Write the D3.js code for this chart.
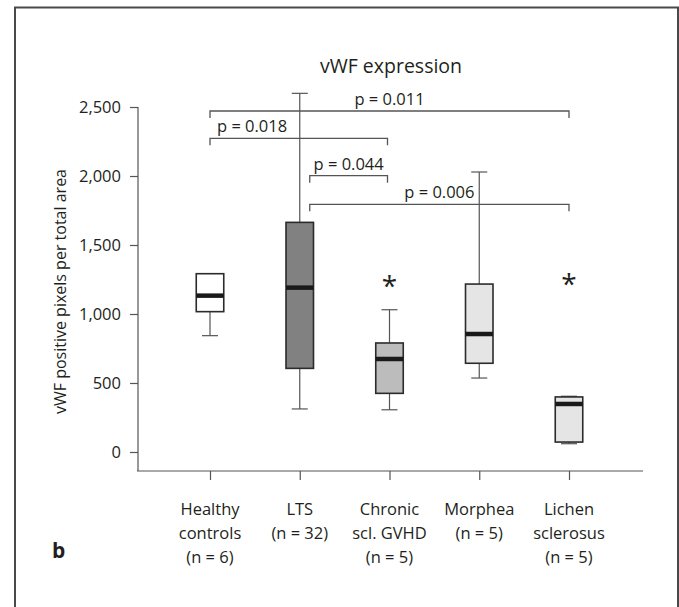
<!DOCTYPE html>
<meta charset="utf-8">
<script src="https://d3js.org/d3.v7.min.js"></script>
<style>
  body { margin: 0; background: #fff; }
  text { font-family: "Open Sans", sans-serif; fill: #231f20; }
</style>
<div id="chart"></div>
<script>
    // groups and box stats
    var categories = ["Healthy", "LTS", "Chronic", "Morphea", "Lichen"];
    var labelLines = [
        ["Healthy", "controls", "(n = 6)"],
        ["LTS", "(n = 32)"],
        ["Chronic", "scl. GVHD", "(n = 5)"],
        ["Morphea", "(n = 5)"],
        ["Lichen", "sclerosus", "(n = 5)"]
    ];
    var whiskerMin = [843, 312, 306, 536, 60];
    var q1 = [1017, 606, 425, 643, 72];
    var median = [1133, 1191, 674, 855, 348];
    var q3 = [1292, 1664, 790, 1217, 399];
    var whiskerMax = [1292, 2599, 1031, 2029, 404];
    var outliers = [null, null, 1246, null, 1258];
    var fills = ["#ffffff", "#818181", "#bcbcbc", "#e5e5e5", "#e5e5e5"];

    var yTicks = [0, 500, 1000, 1500, 2000, 2500];

    // significance brackets: from, to, level, label
    var brackets = [
        { from: "Healthy", to: "Lichen", level: 2471, label: "p = 0.011", anchor: "middle" },
        { from: "Healthy", to: "Chronic", level: 2273, label: "p = 0.018", anchor: "start" },
        { from: "LTS", to: "Chronic", level: 2002, label: "p = 0.044", anchor: "middle" },
        { from: "LTS", to: "Lichen", level: 1795, label: "p = 0.006", anchor: "middle" }
    ];

    var width = 679, height = 607;

    var svg = d3.select("#chart").append("svg")
        .attr("width", width)
        .attr("height", height);

    // frame
    svg.append("rect")
        .attr("x", 15).attr("y", 7.5)
        .attr("width", 663).attr("height", 640)
        .attr("fill", "none")
        .attr("stroke", "#4a4a4a")
        .attr("stroke-width", 2);

    var y = d3.scaleLinear().domain([0, 2500]).range([452, 107]);
    var x = d3.scalePoint().domain(categories).range([210, 569]);

    var axisBottomY = 471;
    var axisLeftX = 138;

    // y axis
    var yAxis = svg.append("g")
        .attr("transform", "translate(" + axisLeftX + ",0)")
        .call(d3.axisLeft(y).tickValues(yTicks).tickSize(8).tickPadding(9)
            .tickFormat(d3.format(",")));
    yAxis.select(".domain").remove();
    yAxis.selectAll(".tick line").attr("stroke", "#555").attr("stroke-width", 1.2);
    yAxis.selectAll(".tick text")
        .attr("font-size", "16.5px")
        .attr("font-family", "Open Sans")
        .attr("fill", "#231f20");

    svg.append("line")
        .attr("x1", axisLeftX).attr("x2", axisLeftX)
        .attr("y1", y(2500)).attr("y2", axisBottomY)
        .attr("stroke", "#555").attr("stroke-width", 1.2);

    // x axis
    svg.append("line")
        .attr("x1", axisLeftX - 1).attr("x2", 643)
        .attr("y1", axisBottomY).attr("y2", axisBottomY)
        .attr("stroke", "#555").attr("stroke-width", 1.2);

    var xAxis = svg.append("g")
        .attr("transform", "translate(0," + axisBottomY + ")")
        .call(d3.axisBottom(x).tickSize(9).tickFormat(""));
    xAxis.select(".domain").remove();
    xAxis.selectAll(".tick line").attr("stroke", "#555").attr("stroke-width", 1.2);

    var catLabels = svg.selectAll(null)
        .data(categories)
        .enter()
        .append("text")
        .attr("text-anchor", "middle")
        .attr("font-size", "16.5px");
    catLabels.each(function(d, i) {
        var t = d3.select(this);
        labelLines[i].forEach(function(line, j) {
            t.append("tspan")
                .attr("x", x(d))
                .attr("y", 515 + j * 24)
                .text(line);
        });
    });

    // boxes
    var boxW = 27.5, capW = 16;
    var boxes = svg.selectAll(".box")
        .data(categories)
        .enter()
        .append("g")
        .attr("class", "box");

    // whiskers
    boxes.append("line")
        .attr("x1", function(d) { return x(d); })
        .attr("x2", function(d) { return x(d); })
        .attr("y1", function(d, i) { return y(whiskerMin[i]); })
        .attr("y2", function(d, i) { return y(q1[i]); })
        .attr("stroke", "#555").attr("stroke-width", 1.2);
    boxes.append("line")
        .attr("x1", function(d) { return x(d); })
        .attr("x2", function(d) { return x(d); })
        .attr("y1", function(d, i) { return y(q3[i]); })
        .attr("y2", function(d, i) { return y(whiskerMax[i]); })
        .attr("stroke", "#555").attr("stroke-width", 1.2);
    boxes.append("line")
        .attr("x1", function(d) { return x(d) - capW / 2; })
        .attr("x2", function(d) { return x(d) + capW / 2; })
        .attr("y1", function(d, i) { return y(whiskerMin[i]); })
        .attr("y2", function(d, i) { return y(whiskerMin[i]); })
        .attr("stroke", "#555").attr("stroke-width", 1.2);
    boxes.filter(function(d, i) { return whiskerMax[i] > q3[i]; })
        .append("line")
        .attr("x1", function(d) { return x(d) - capW / 2; })
        .attr("x2", function(d) { return x(d) + capW / 2; })
        .attr("y1", function(d) { return y(whiskerMax[categories.indexOf(d)]); })
        .attr("y2", function(d) { return y(whiskerMax[categories.indexOf(d)]); })
        .attr("stroke", "#555").attr("stroke-width", 1.2);

    boxes.append("rect")
        .attr("x", function(d) { return x(d) - boxW / 2; })
        .attr("width", boxW)
        .attr("y", function(d, i) { return y(q3[i]); })
        .attr("height", function(d, i) { return y(q1[i]) - y(q3[i]); })
        .attr("fill", function(d, i) { return fills[i]; })
        .attr("stroke", "#2b2b2b")
        .attr("stroke-width", 1.6);

    boxes.append("line")
        .attr("x1", function(d) { return x(d) - boxW / 2; })
        .attr("x2", function(d) { return x(d) + boxW / 2; })
        .attr("y1", function(d, i) { return y(median[i]); })
        .attr("y2", function(d, i) { return y(median[i]); })
        .attr("stroke", "#1a1a1a")
        .attr("stroke-width", 4.5);

    // outliers
    svg.selectAll(".outlier")
        .data(categories.filter(function(d, i) { return outliers[i] != null; }))
        .enter()
        .append("text")
        .attr("class", "outlier")
        .attr("text-anchor", "middle")
        .attr("font-size", "28px")
        .attr("x", function(d) { return x(d); })
        .attr("y", function(d) { return y(outliers[categories.indexOf(d)]); })
        .attr("dy", "0.56em")
        .text("*");

    // brackets
    var bg = svg.selectAll(".bracket")
        .data(brackets)
        .enter()
        .append("g")
        .attr("class", "bracket");

    function bx1(d) { return x(d.from) + (d.from === "LTS" ? 10 : 0); }
    function bx2(d) { return x(d.to) - (d.to === "Chronic" ? 2 : 0); }

    bg.append("path")
        .attr("d", function(d) {
            var yy = y(d.level);
            return "M" + bx1(d) + "," + (yy + 7) + "V" + yy + "H" + bx2(d) + "V" + (yy + 7);
        })
        .attr("fill", "none")
        .attr("stroke", "#555")
        .attr("stroke-width", 1.3);

    bg.append("text")
        .attr("text-anchor", function(d) { return d.anchor; })
        .attr("font-size", "16.5px")
        .attr("x", function(d) {
            return d.anchor === "start" ? bx1(d) + 7 : (bx1(d) + bx2(d)) / 2;
        })
        .attr("y", function(d) { return y(d.level) - 6; })
        .text(function(d) { return d.label; });

    // title
    svg.append("text")
        .attr("x", 391)
        .attr("y", 73)
        .attr("text-anchor", "middle")
        .attr("font-size", "19.5px")
        .text("vWF expression");

    // y label
    svg.append("text")
        .attr("transform", "translate(66," + 291.5 + ") rotate(-90)")
        .attr("text-anchor", "middle")
        .attr("font-size", "16px")
        .text("vWF positive pixels per total area");

    // panel letter
    svg.append("text")
        .attr("x", 52)
        .attr("y", 558)
        .attr("font-size", "21px")
        .attr("font-weight", "bold")
        .text("b");
</script>
